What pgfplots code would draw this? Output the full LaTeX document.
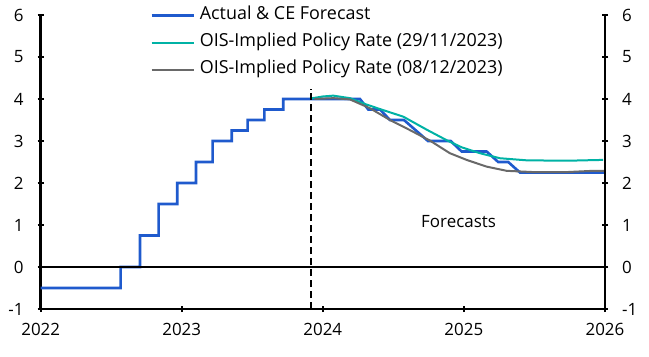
\documentclass[border=0pt]{standalone}
\usepackage{fontspec}
\setmainfont{Open Sans}
\usepackage{pgfplots}
\pgfplotsset{compat=1.18}
\definecolor{ceblue}{RGB}{31,90,205}
\definecolor{ceteal}{RGB}{0,178,165}
\definecolor{cegray}{RGB}{105,105,105}
\begin{document}
\begin{tikzpicture}
\pgfplotsset{common/.style={
  scale only axis, width=564.3bp, height=294bp,
  xmin=2022, xmax=2026, ymin=-1, ymax=6,
  ytick={-1,0,...,6}, xtick={2022,...,2026},
  tick align=outside, major tick length=6bp,
  every tick/.style={black, line width=2bp},
  /pgf/number format/assume math mode=true,
  /pgf/number format/1000 sep={},
  tick label style={font=\fontsize{17}{20}\selectfont, inner sep=0pt},
  yticklabel style={xshift=-14bp},
  xticklabel style={yshift=-11bp},
}}
\begin{axis}[common, name=ax,
  axis x line=bottom, axis y line=left,
  x axis line style={-, line width=2.5bp},
  y axis line style={-, line width=2.5bp},
  legend style={at={(0.1937,1.027)}, anchor=north west, draw=none, fill=none,
    inner sep=0pt, row sep=10.5bp, font=\fontsize{18}{21}\selectfont,
    nodes={inner sep=0pt, text height=12.5bp, text depth=4bp},
    /tikz/every odd column/.append style={column sep=5bp}},
  legend cell align=left,
  legend image code/.code={\draw[#1] (0bp,0bp) -- (42bp,0bp);},
]
\addplot[ceblue, line width=2.6bp] coordinates {
(2022,-0.5) (2022.567,-0.5) (2022.567,0) (2022.704,0) (2022.704,0.75)
(2022.836,0.75) (2022.836,1.5) (2022.968,1.5) (2022.968,2.0)
(2023.101,2.0) (2023.101,2.5) (2023.219,2.5) (2023.219,3.0)
(2023.354,3.0) (2023.354,3.25) (2023.467,3.25) (2023.467,3.5)
(2023.585,3.5) (2023.585,3.75) (2023.719,3.75) (2023.719,4.0)
(2024.263,4.0) (2024.322,3.75) (2024.405,3.75) (2024.476,3.5)
(2024.575,3.5) (2024.745,3.0) (2024.906,3.0) (2024.984,2.75)
(2025.161,2.75) (2025.243,2.5) (2025.314,2.5) (2025.397,2.25)
(2026,2.25)};
\addlegendentry{Actual \& CE Forecast}
\addplot[ceteal, line width=2bp] coordinates {
(2023.909,4.01) (2024.0,4.06) (2024.074,4.08) (2024.192,4.02) (2024.30,3.88)
(2024.405,3.76) (2024.570,3.58) (2024.736,3.27) (2024.877,3.02)
(2024.984,2.85) (2025.113,2.71) (2025.254,2.59) (2025.444,2.54)
(2025.728,2.53) (2025.987,2.55)};
\addlegendentry{OIS-Implied Policy Rate (29/11/2023)}
\addplot[cegray, line width=2bp] coordinates {
(2023.94,4.0) (2024.074,4.02) (2024.192,3.99) (2024.334,3.78)
(2024.476,3.5) (2024.617,3.26) (2024.759,3.01) (2024.90,2.71)
(2025.019,2.55) (2025.161,2.39) (2025.303,2.29) (2025.491,2.26)
(2025.728,2.26) (2025.917,2.29) (2026,2.29)};
\addlegendentry{OIS-Implied Policy Rate (08/12/2023)}
\addplot[black, line width=1.7bp, forget plot] coordinates {(2022,0) (2026,0)};
\addplot[black, line width=1.6bp, dash pattern=on 7bp off 4bp, forget plot]
  coordinates {(2023.916,-1) (2023.916,4.25)};
\node[font=\fontsize{17}{20}\selectfont, anchor=base, inner sep=0pt]
  at (axis cs:2024.962,0.945) {Forecasts};
\end{axis}
\begin{axis}[common, axis x line=none, axis y line=right, xtick=\empty,
  y axis line style={-, line width=2.5bp},
  yticklabel style={xshift=28bp},
]
\end{axis}
\pgfresetboundingbox
\path ([shift={(-40.7bp,-48bp)}]ax.south west) rectangle ([shift={(44bp,15bp)}]ax.north east);
\end{tikzpicture}
\end{document}
